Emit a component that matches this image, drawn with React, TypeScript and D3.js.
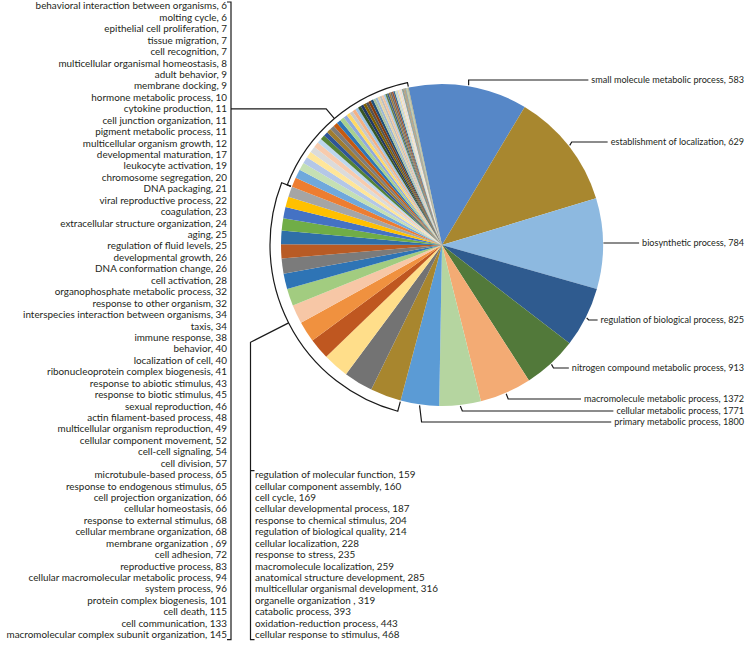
import React, { useLayoutEffect, useRef, useState } from "react";
import * as d3 from "d3";

// ---- data (ascending order, as listed in the figure) ----
const leftNames = [
  "behavioral interaction between organisms", "molting cycle", "epithelial cell proliferation", "tissue migration",
  "cell recognition", "multicellular organismal homeostasis", "adult behavior", "membrane docking",
  "hormone metabolic process", "cytokine production", "cell junction organization", "pigment metabolic process",
  "multicellular organism growth", "developmental maturation", "leukocyte activation", "chromosome segregation",
  "DNA packaging", "viral reproductive process", "coagulation", "extracellular structure organization",
  "aging", "regulation of fluid levels", "developmental growth", "DNA conformation change",
  "cell activation", "organophosphate metabolic process", "response to other organism", "interspecies interaction between organisms",
  "taxis", "immune response", "behavior", "localization of cell",
  "ribonucleoprotein complex biogenesis", "response to abiotic stimulus", "response to biotic stimulus", "sexual reproduction",
  "actin filament-based process", "multicellular organism reproduction", "cellular component movement", "cell-cell signaling",
  "cell division", "microtubule-based process", "response to endogenous stimulus", "cell projection organization",
  "cellular homeostasis", "response to external stimulus", "cellular membrane organization", "membrane organization ",
  "cell adhesion", "reproductive process", "cellular macromolecular metabolic process", "system process",
  "protein complex biogenesis", "cell death", "cell communication", "macromolecular complex subunit organization",
];
const leftValues = [
  6, 6, 7, 7, 7, 8, 9, 9, 10, 11, 11, 11, 12, 17, 19, 20, 21, 22, 23, 24, 25, 25, 26, 26, 28, 32, 32, 34,
  34, 38, 40, 40, 41, 43, 45, 46, 48, 49, 52, 54, 57, 65, 65, 66, 66, 68, 68, 69, 72, 83, 94, 96, 101, 115, 133, 145,
];
const bottomNames = [
  "regulation of molecular function", "cellular component assembly", "cell cycle", "cellular developmental process",
  "response to chemical stimulus", "regulation of biological quality", "cellular localization", "response to stress",
  "macromolecule localization", "anatomical structure development", "multicellular organismal development",
  "organelle organization ", "catabolic process", "oxidation-reduction process", "cellular response to stimulus",
];
const bottomValues = [159, 160, 169, 187, 204, 214, 228, 235, 259, 285, 316, 319, 393, 443, 468];
const rightNames = [
  "small molecule metabolic process", "establishment of localization", "biosynthetic process",
  "regulation of biological process", "nitrogen compound metabolic process", "macromolecule metabolic process",
  "cellular metabolic process", "primary metabolic process",
];
const rightValues = [583, 629, 784, 825, 913, 1372, 1771, 1800];

// slice colours, by ascending index (value 6 first ... 1800 last)
const sliceColors = [
  "#A89868", "#7D9A7A", "#D4C39A", "#9CAF88", "#C9B98A", "#8CB69A", "#6A8FA8", "#B7824E", "#8A8A7A", "#B09A60",
  "#6D7F9C", "#7A8C5A", "#CADDEE", "#F6D5BE", "#E2E2E2", "#F4E0A8", "#C2CFE6", "#C9DDB8", "#3A6B99", "#A0522D",
  "#6B6B6B", "#9A7B3C", "#3E5F8A", "#5E7F45", "#A5C8E4", "#F2C3A0", "#BFBFBF", "#E6D3A3", "#9BB7D4", "#A9C4A0",
  "#1F4E79", "#843C0C", "#525252", "#7F6000", "#203864", "#375623", "#9DC3E6", "#F4B183", "#C9C9C9", "#FFD966",
  "#8FAADC", "#A9D18E", "#2E75B6", "#C55A11", "#7C7C7C", "#A07C2E", "#2F5597", "#548235", "#BDD7EE", "#F8CBAD",
  "#DBDBDB", "#FFE699", "#B4C7E7", "#C5E0B4", "#6FA8DC", "#ED7D31", "#A5A5A5", "#FFC000", "#4472C4", "#70AD47",
  "#2F6FA8", "#B85B25", "#7B7B7B", "#2E74B5", "#A2CC80", "#F7C7A6", "#F0913F", "#BF5720", "#FFDE8A", "#737373",
  "#A8862E", "#5B9BD5", "#B5D5A0", "#F3AB74", "#52793A", "#2F5B8F", "#8DB9E0", "#A8872F", "#5687C7",
];

// ---- layout ----
const W = 746, H = 647;
const cx = 442, cy = 245, R = 161;
const START = (-12 * Math.PI) / 180;
const FONT = "Lato, 'Liberation Sans', sans-serif";
const LIST_FS = 9.9;
const RIGHT_FS = 9.1;
const row0 = 6, rowStep = 11.43;
const rowY = (k: number) => row0 + k * rowStep;
const leftTextX = 227, leftBracketX = 231;
const bottomBracketX = 250.5, bottomTextX = 255;
const bottomFirstRow = 41;
const rightTextX = 744;
const rightLabelY = [80, 142, 243, 320, 368, 399, 411, 422];
const upperArcR = 166, lowerArcR = 172;
const leaderRow = 9;

const pt = (a: number, r: number): [number, number] => [cx + r * Math.sin(a), cy - r * Math.cos(a)];

export default function App() {
  const allValues = [...leftValues, ...bottomValues, ...rightValues];
  const n = allValues.length;
  // clockwise order: descending
  const order = d3.range(n).reverse();
  const pie = d3
    .pie<number>()
    .sort(null)
    .value((i) => allValues[i])
    .startAngle(START)
    .endAngle(START + 2 * Math.PI);
  const arcs = pie(order);
  const arcGen = d3.arc<d3.PieArcDatum<number>>().innerRadius(0).outerRadius(R);

  const nRight = rightValues.length;
  const nBottom = bottomValues.length;

  // brackets
  const bracket = (a0: number, a1: number, r: number) => {
    const p = d3.path();
    const s0 = pt(a0, R + 1), s1 = pt(a0, r), e1 = pt(a1, R + 1);
    p.moveTo(s0[0], s0[1]);
    p.lineTo(s1[0], s1[1]);
    p.arc(cx, cy, r, a0 - Math.PI / 2, a1 - Math.PI / 2, false);
    p.lineTo(e1[0], e1[1]);
    return p.toString();
  };
  const lowA0 = arcs[nRight].startAngle, lowA1 = arcs[nRight + nBottom - 1].endAngle;
  const upA0 = arcs[nRight + nBottom].startAngle, upA1 = arcs[n - 1].endAngle;

  // upper leader: radial from arc mid to the leader row, then horizontal to bracket
  const upMid = (upA0 + upA1) / 2;
  const upP = pt(upMid, upperArcR);
  const ly = rowY(leaderRow);
  const tUp = (upP[1] - ly) / Math.cos(upMid);
  const upElbow: [number, number] = [upP[0] + tUp * Math.sin(upMid), ly];
  // lower leader: radial from arc mid to bracket x, then vertical down
  const lowMid = (lowA0 + lowA1) / 2;
  const lowP = pt(lowMid, lowerArcR);
  const tLow = (bottomBracketX - lowP[0]) / Math.sin(lowMid);
  const lowElbow: [number, number] = [bottomBracketX, lowP[1] - tLow * Math.cos(lowMid)];

  const textRefs = useRef<(SVGTextElement | null)[]>([]);
  const [widths, setWidths] = useState<number[]>(rightNames.map(() => 0));
  useLayoutEffect(() => {
    setWidths(textRefs.current.map((t) => (t ? t.getComputedTextLength() : 0)));
  }, []);

  const lastRow = leftNames.length - 1;
  const stroke = "#1a1a1a";

  return (
    <svg
      width={W}
      height={H}
      style={{ position: "absolute", left: 0, top: 0, background: "#fff" }}
      fontFamily={FONT}
    >
      <g transform={`translate(${cx},${cy})`}>
        {arcs.map((a) => (
          <path key={a.data} d={arcGen(a) || ""} fill={sliceColors[a.data]} />
        ))}
      </g>

      {/* arc brackets */}
      <g fill="none" stroke={stroke} strokeWidth={1.2}>
        <path d={bracket(upA0, upA1, upperArcR)} />
        <path d={bracket(lowA0, lowA1, lowerArcR)} />
        <polyline points={`${upP[0]},${upP[1]} ${upElbow[0]},${upElbow[1]} ${leftBracketX},${ly}`} />
        <polyline
          points={`${lowP[0]},${lowP[1]} ${lowElbow[0]},${lowElbow[1]} ${bottomBracketX},${rowY(lastRow) + 5} ${bottomBracketX + 4},${rowY(lastRow) + 5}`}
        />
        <line x1={bottomBracketX} x2={bottomBracketX + 4} y1={rowY(bottomFirstRow) - 4} y2={rowY(bottomFirstRow) - 4} />
        <polyline
          points={`${leftBracketX - 4},${rowY(0) - 4} ${leftBracketX},${rowY(0) - 4} ${leftBracketX},${rowY(lastRow) + 5} ${leftBracketX - 4},${rowY(lastRow) + 5}`}
        />
      </g>

      {/* left list */}
      <g fill="#231f20" textAnchor="end" fontSize={LIST_FS}>
        {leftNames.map((nm, i) => (
          <text key={nm + i} x={leftTextX} y={rowY(i)} dy="0.35em">
            {`${nm}, ${leftValues[i]}`}
          </text>
        ))}
      </g>

      {/* bottom list */}
      <g fill="#231f20" fontSize={LIST_FS}>
        {bottomNames.map((nm, i) => (
          <text key={nm + i} x={bottomTextX} y={rowY(bottomFirstRow + i)} dy="0.35em">
            {`${nm}, ${bottomValues[i]}`}
          </text>
        ))}
      </g>

      {/* right labels with leaders */}
      {rightNames.map((nm, i) => {
        const a = arcs[i];
        const mid = (a.startAngle + a.endAngle) / 2;
        const p = pt(mid, R + 1);
        const y = rightLabelY[i];
        const ex = Math.abs(p[1] - y) < 1 ? p[0] : p[0] + (i === 0 ? 0 : 2);
        const tx = rightTextX - widths[i] - 3;
        return (
          <g key={nm}>
            <polyline
              points={`${p[0]},${p[1]} ${ex},${y} ${tx},${y}`}
              fill="none"
              stroke={stroke}
              strokeWidth={1.2}
            />
            <text
              ref={(el) => {
                textRefs.current[i] = el;
              }}
              x={rightTextX}
              y={y}
              dy="0.35em"
              textAnchor="end"
              fill="#231f20"
              fontSize={RIGHT_FS}
            >
              {`${nm}, ${rightValues[i]}`}
            </text>
          </g>
        );
      })}
    </svg>
  );
}
